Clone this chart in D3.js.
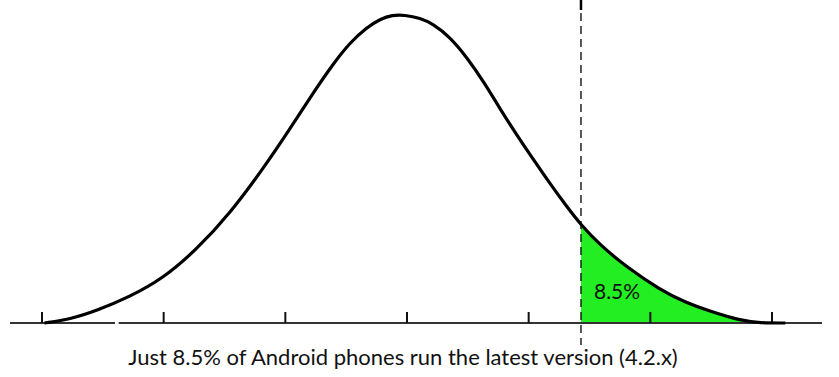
<!DOCTYPE html>
<html>
<head>
<meta charset="utf-8">
<script src="https://cdn.jsdelivr.net/npm/d3@7"></script>
<style>
  body { margin: 0; background: #fff; }
  svg { display: block; }
</style>
</head>
<body>
<div id="canvas"></div>
<script>
// curve: x in standard deviations, y as share of the peak height
const curveX = [-2.98, -2.77, -2.55, -2.28, -2.01, -1.73, -1.45, -1.17, -0.96, -0.78, -0.61, -0.47, -0.33, -0.22, -0.12, -0.02,
  0.11, 0.21, 0.35, 0.49, 0.64, 0.76, 0.90, 1.04, 1.18, 1.30, 1.43, 1.59, 1.81, 2.08, 2.28, 2.49, 2.74, 2.90, 3.11];
const curveY = [0, 0.012, 0.040, 0.085, 0.143, 0.238, 0.358, 0.508, 0.632, 0.742, 0.840, 0.910, 0.960, 0.987, 1.0, 1.0,
  0.990, 0.972, 0.930, 0.864, 0.778, 0.698, 0.612, 0.530, 0.450, 0.385, 0.318, 0.252, 0.180, 0.108, 0.068, 0.038, 0.008, 0, 0];
const ticks = [-3, -2, -1, 0, 1, 2, 3];
const cutoff = 1.43;
const shareLabel = "8.5%";
const caption = "Just 8.5% of Android phones run the latest version (4.2.x)";

const width = 839;
const height = 377;

const x = d3.scaleLinear().domain([-3, 3]).range([42, 772]);
const y = d3.scaleLinear().domain([0, 1]).range([323, 15]);

const points = curveX.map((d, i) => ({ x: d, y: curveY[i] }));

const svg = d3.select("#canvas").append("svg")
  .attr("width", width)
  .attr("height", height);

svg.append("clipPath").attr("id", "tail")
  .append("rect")
  .attr("x", x(cutoff))
  .attr("y", 0)
  .attr("width", width - x(cutoff))
  .attr("height", height);

const area = d3.area()
  .x(d => x(d.x))
  .y0(y(0))
  .y1(d => y(d.y))
  .curve(d3.curveBasis);

svg.append("path")
  .datum(points)
  .attr("clip-path", "url(#tail)")
  .attr("d", area)
  .style("fill", "#22ee22");

// baseline, with the small break near the left
svg.append("line")
  .attr("x1", 10).attr("x2", x(-2.4))
  .attr("y1", y(0)).attr("y2", y(0))
  .style("stroke", "#333").style("stroke-width", 2);
svg.append("line")
  .attr("x1", x(-2.37)).attr("x2", 822)
  .attr("y1", y(0)).attr("y2", y(0))
  .style("stroke", "#333").style("stroke-width", 2);

svg.selectAll(".tick")
  .data(ticks)
  .enter()
  .append("line")
  .attr("class", "tick")
  .attr("x1", d => x(d)).attr("x2", d => x(d))
  .attr("y1", y(0) - 11).attr("y2", y(0))
  .style("stroke", "#111").style("stroke-width", 2);

const line = d3.line()
  .x(d => x(d.x))
  .y(d => y(d.y))
  .curve(d3.curveBasis);

svg.append("path")
  .datum(points)
  .attr("d", line)
  .style("fill", "none")
  .style("stroke", "#000")
  .style("stroke-width", 3.2)
  .style("stroke-linejoin", "round");

// dashed cutoff line
svg.append("line")
  .attr("x1", x(cutoff)).attr("x2", x(cutoff))
  .attr("y1", 0).attr("y2", 10)
  .style("stroke", "#000").style("stroke-width", 2.5);
svg.append("line")
  .attr("x1", x(cutoff)).attr("x2", x(cutoff))
  .attr("y1", 13).attr("y2", 345)
  .style("stroke", "#000").style("stroke-width", 1.3)
  .style("stroke-dasharray", "8,5");

svg.append("text")
  .attr("x", x(cutoff) + 13)
  .attr("y", 299)
  .style("font-family", "Lato, 'Open Sans', sans-serif")
  .style("font-size", "21px")
  .style("fill", "#111")
  .text(shareLabel);

svg.append("text")
  .attr("x", 403)
  .attr("y", 365)
  .attr("text-anchor", "middle")
  .style("font-family", "Lato, 'Open Sans', sans-serif")
  .style("font-size", "22px")
  .style("fill", "#111")
  .text(caption);
</script>
</body>
</html>
